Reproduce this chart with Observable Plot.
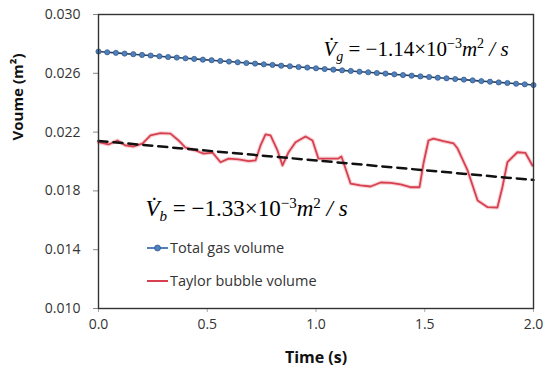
<!DOCTYPE html>
<html>
<head>
<meta charset="utf-8">
<script src="https://cdn.jsdelivr.net/npm/d3@7"></script>
<script src="https://cdn.jsdelivr.net/npm/@observablehq/plot@0.6"></script>
<style>
  html, body { margin: 0; padding: 0; background: #fff; }
  #chart svg text { white-space: pre; }
</style>
</head>
<body>
<div id="chart"></div>
<script>
// ---- data ----
const gasTime = [0.00,0.04,0.08,0.12,0.16,0.20,0.24,0.28,0.32,0.36,0.40,0.44,0.48,0.52,0.56,0.60,0.64,0.68,0.72,0.76,0.80,0.84,0.88,0.92,0.96,1.00,1.04,1.08,1.12,1.16,1.20,1.24,1.28,1.32,1.36,1.40,1.44,1.48,1.52,1.56,1.60,1.64,1.68,1.72,1.76,1.80,1.84,1.88,1.92,1.96,2.00];
const gasVolume = [0.02748,0.02743,0.02739,0.02734,0.02730,0.02725,0.02721,0.02716,0.02711,0.02707,0.02702,0.02698,0.02693,0.02689,0.02684,0.02680,0.02675,0.02670,0.02666,0.02661,0.02657,0.02652,0.02648,0.02643,0.02639,0.02634,0.02629,0.02625,0.02620,0.02616,0.02611,0.02607,0.02602,0.02598,0.02593,0.02588,0.02584,0.02579,0.02575,0.02570,0.02566,0.02561,0.02557,0.02552,0.02547,0.02543,0.02538,0.02534,0.02529,0.02525,0.02520];

const bubbleTime = [0.000,0.046,0.087,0.124,0.161,0.202,0.239,0.285,0.331,0.368,0.400,0.446,0.483,0.524,0.561,0.598,0.644,0.690,0.722,0.745,0.768,0.791,0.823,0.846,0.874,0.906,0.952,0.984,1.011,1.044,1.103,1.117,1.159,1.205,1.251,1.297,1.343,1.389,1.434,1.476,1.494,1.517,1.540,1.586,1.632,1.651,1.697,1.743,1.789,1.834,1.857,1.880,1.926,1.963,1.995];
const bubbleVolume = [0.02131,0.02116,0.02143,0.02109,0.02102,0.02122,0.02177,0.02193,0.02190,0.02143,0.02095,0.02075,0.02054,0.02061,0.01995,0.02020,0.02014,0.02002,0.02007,0.02109,0.02184,0.02177,0.02075,0.01973,0.02063,0.02131,0.02170,0.02143,0.02020,0.02020,0.02020,0.02034,0.01850,0.01837,0.01830,0.01857,0.01855,0.01844,0.01825,0.01825,0.01986,0.02143,0.02156,0.02138,0.02124,0.02088,0.01939,0.01735,0.01689,0.01687,0.01825,0.01995,0.02063,0.02058,0.01973];

const trendTime = [0, 2];
const trendVolume = [0.02140, 0.01874];

const xTicks = [0, 0.5, 1.0, 1.5, 2.0];
const yTicks = [0.010, 0.014, 0.018, 0.022, 0.026, 0.030];

const annoTime = [1.034, 0.216];
const annoVolume = [0.02721, 0.01626];
const annoKey = ["VG", "VB"];
const annoSub = ["g", "b"];
const annoRate = ["1.14", "1.33"];
const annoSize = [21, 23];

const legendLabels = ["Total gas volume", "Taylor bubble volume"];

// ---- tables ----
const gas = gasTime.map((t, i) => ({t, v: gasVolume[i]}));
const bubble = bubbleTime.map((t, i) => ({t, v: bubbleVolume[i]}));
const trend = trendTime.map((t, i) => ({t, v: trendVolume[i]}));
const anno = annoTime.map((t, i) => ({t, v: annoVolume[i], k: annoKey[i], s: annoSize[i]}));

const BLUE = "#4f81bd", RED = "#d6404f";

const plot = Plot.plot({
  width: 546,
  height: 379,
  marginLeft: 98,
  marginRight: 13,
  marginTop: 14,
  marginBottom: 71,
  style: {fontFamily: "Open Sans", fontSize: "14px", color: "#333", background: "#fff"},
  x: {domain: [0, 2]},
  y: {domain: [0.010, 0.030]},
  marks: [
    Plot.axisY({ticks: yTicks, tickFormat: d3.format(".3f"), tickSize: 5, tickPadding: 13, label: null, stroke: "#888", fontSize: 14}),
    Plot.axisX({ticks: xTicks, tickFormat: d3.format(".1f"), tickSize: 4, tickPadding: 7, label: null, stroke: "#aaa", fontSize: 14}),
    Plot.line(bubble, {x: "t", y: "v", stroke: "#f2a6ae", strokeWidth: 4, strokeOpacity: 0.5}),
    Plot.line(bubble, {x: "t", y: "v", stroke: RED, strokeWidth: 1.8}),
    Plot.line(trend, {x: "t", y: "v", stroke: "#111", strokeWidth: 2.5, strokeDasharray: "9,6"}),
    Plot.line(gas, {x: "t", y: "v", stroke: "#2d3f5c", strokeWidth: 1.6}),
    Plot.dot(gas, {x: "t", y: "v", r: 2.6, fill: BLUE, stroke: "#2f5585", strokeWidth: 0.7}),
    Plot.text(anno, {x: "t", y: "v", text: "k", fontSize: "s", textAnchor: "start", lineAnchor: "bottom", fontFamily: "Liberation Serif", fill: "#000"}),
    Plot.text(["Voume (m²)"], {frameAnchor: "left", rotate: -90, dx: -80, dy: -21, fontWeight: "bold", fontSize: 15, fill: "#111"}),
    Plot.text(["Time (s)"], {frameAnchor: "bottom", dy: 54, fontWeight: "bold", fontSize: 16, fill: "#111"}),
    Plot.frame({stroke: "#333", strokeWidth: 1.4})
  ]
});

document.getElementById("chart").appendChild(plot);

// rich math annotations (sub/superscripts)
const svg = d3.select(plot);
svg.selectAll("text").each(function () {
  const el = d3.select(this);
  const idx = annoKey.indexOf(this.textContent);
  if (idx < 0) return;
  const small = Math.round(annoSize[idx] * 0.66);
  el.text(null);
  el.append("tspan").attr("font-style", "italic").text("V\u0307");
  el.append("tspan").attr("font-style", "italic").attr("font-size", small).attr("dy", 5).text(annoSub[idx]);
  el.append("tspan").attr("dy", -5).text(" = \u2212" + annoRate[idx] + "\u00d710");
  el.append("tspan").attr("font-size", small).attr("dy", -8).text("\u22123");
  el.append("tspan").attr("dy", 8).attr("font-style", "italic").text("m");
  el.append("tspan").attr("font-size", small).attr("dy", -8).text("2");
  el.append("tspan").attr("dy", 8).attr("font-style", "italic").text(" / s");
});

// legend
const lg = svg.append("g").attr("font-family", "Open Sans").attr("font-size", 14.5).attr("fill", "#333").attr("text-anchor", "start");
const legendY = [248, 281];
const legendColor = [BLUE, RED];
legendLabels.forEach((lab, i) => {
  lg.append("line").attr("x1", 147).attr("x2", 168).attr("y1", legendY[i]).attr("y2", legendY[i])
    .attr("stroke", legendColor[i]).attr("stroke-width", 2);
  if (i === 0) lg.append("circle").attr("cx", 157.5).attr("cy", legendY[i]).attr("r", 3).attr("fill", BLUE).attr("stroke", "#2f5585").attr("stroke-width", 0.7);
  lg.append("text").attr("x", 170).attr("y", legendY[i]).attr("dy", "0.35em").attr("text-anchor", "start").text(lab);
});
</script>
</body>
</html>
